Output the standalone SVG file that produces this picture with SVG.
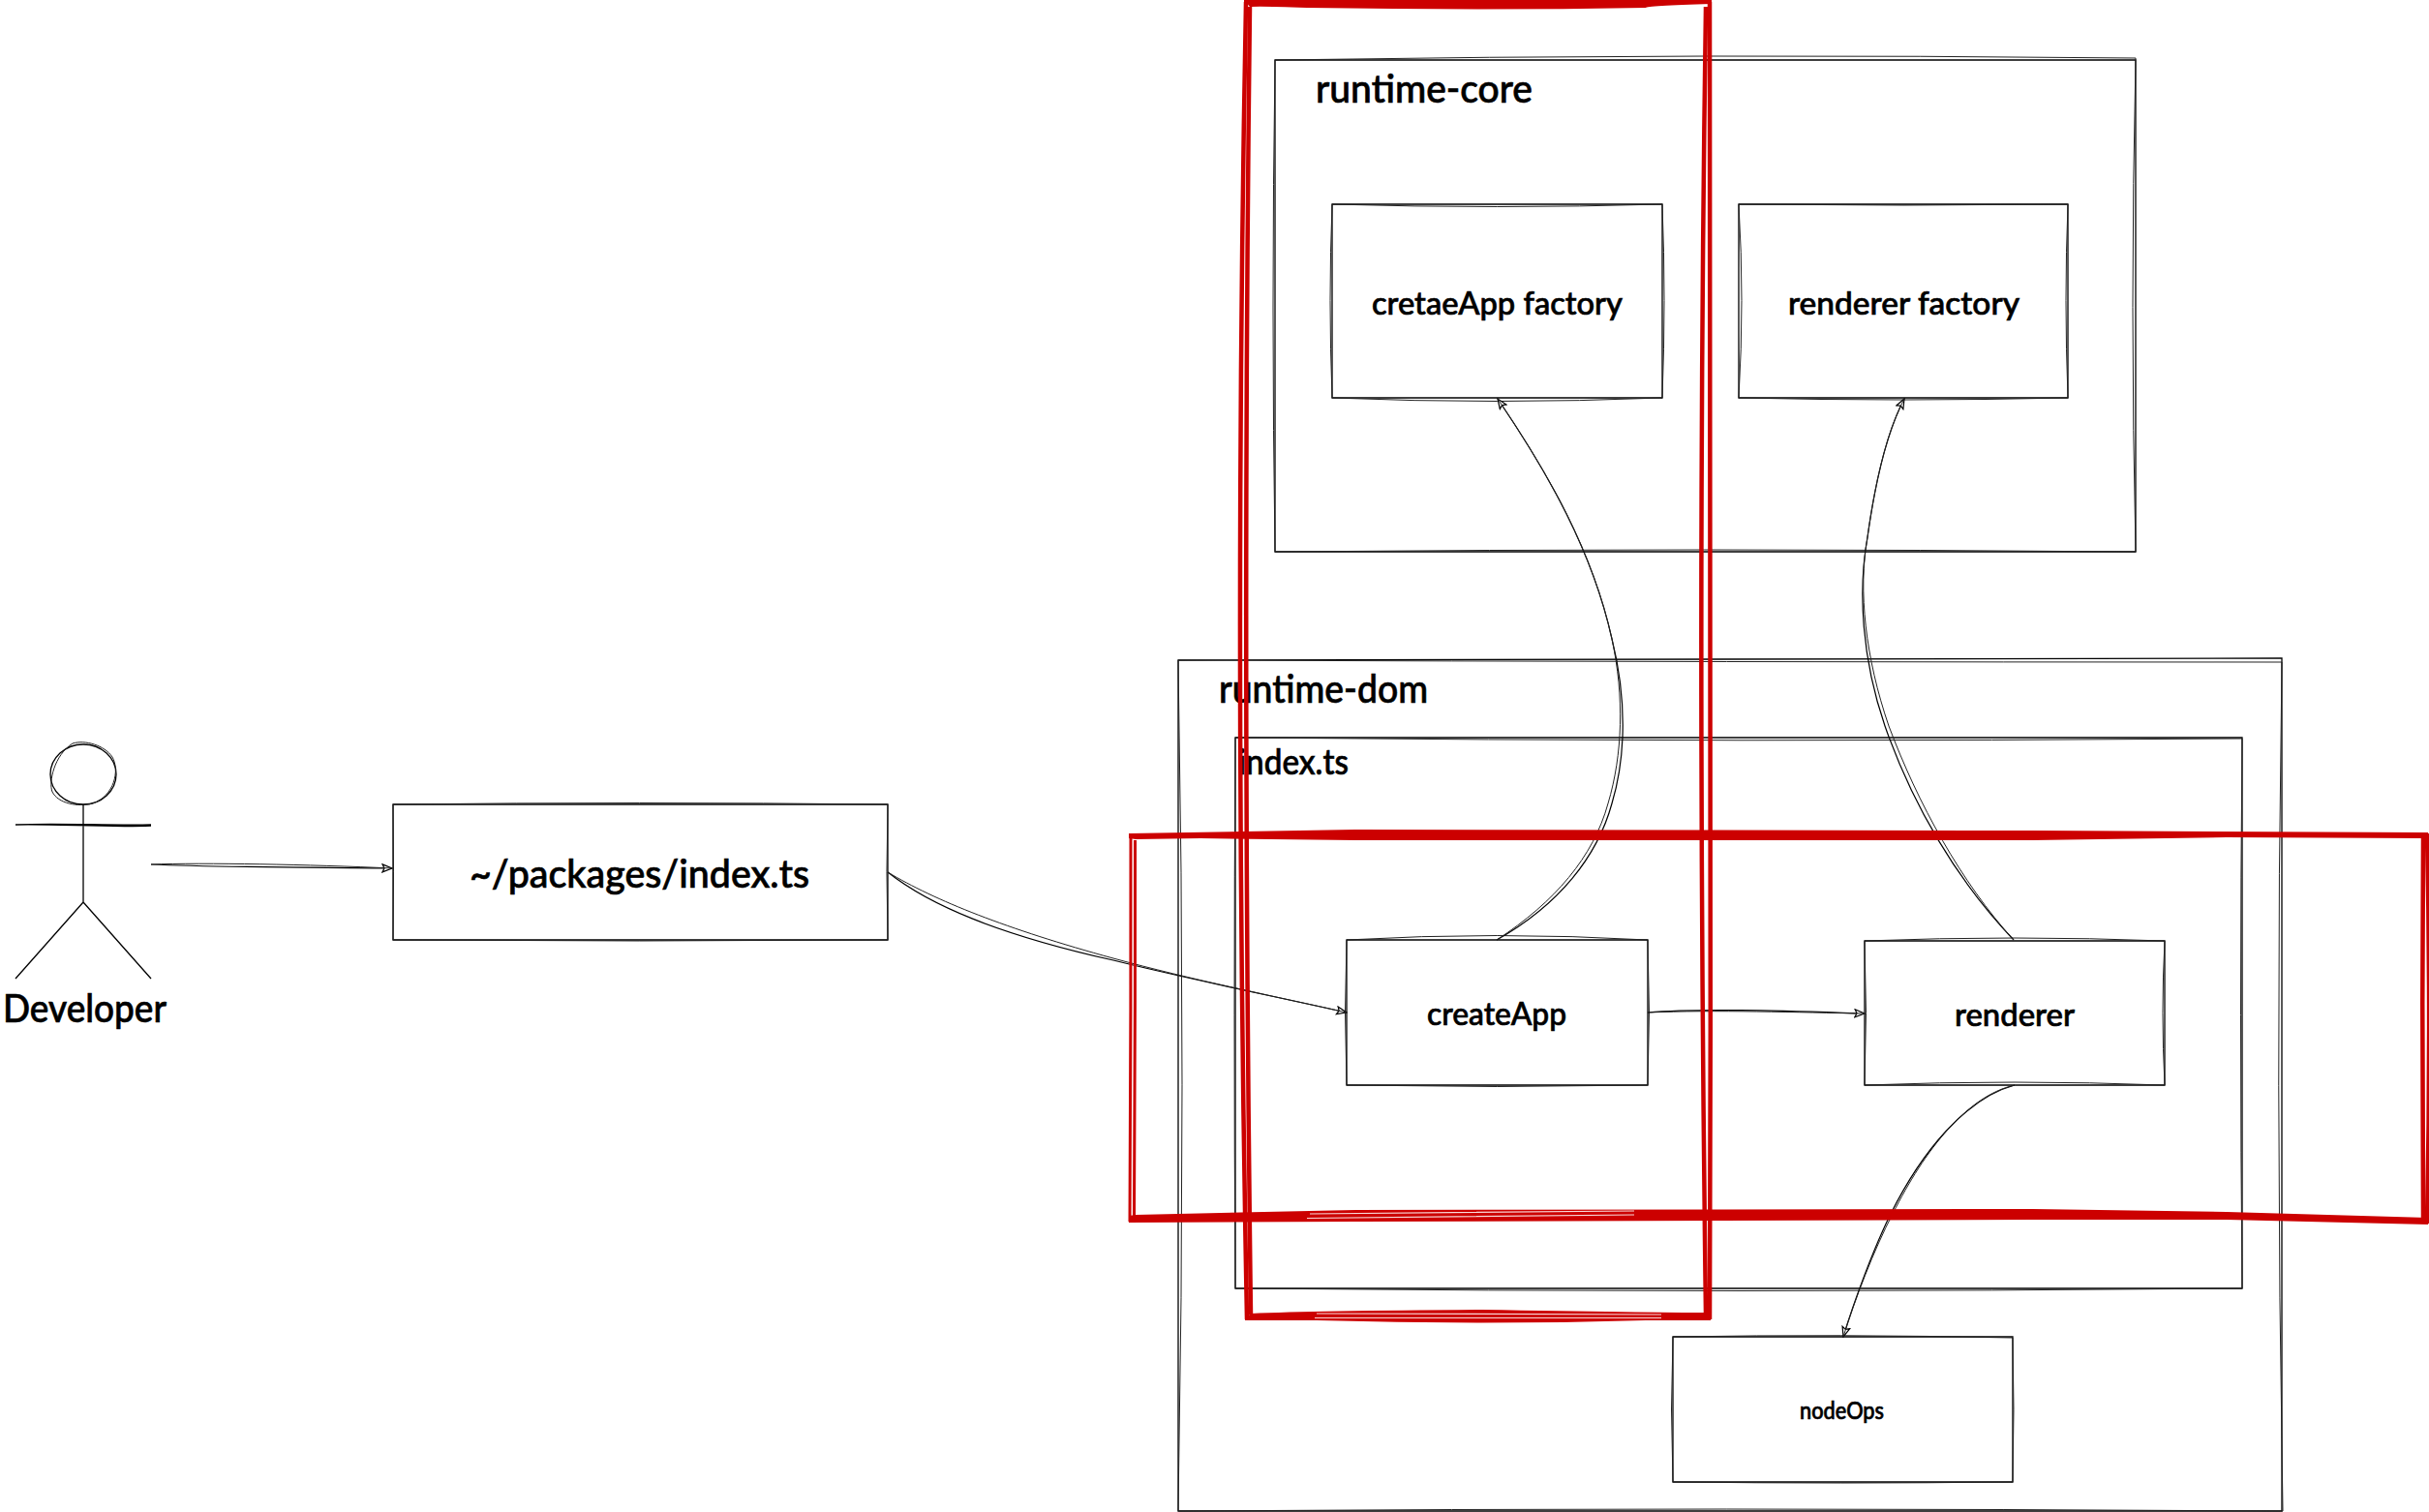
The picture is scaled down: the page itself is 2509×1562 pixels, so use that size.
<svg xmlns="http://www.w3.org/2000/svg" width="2509" height="1562" viewBox="0 0 2509 1562">
<defs>
<style>
.s{fill:none;stroke:#000;stroke-width:1.3;stroke-linejoin:miter}
.t{fill:none;stroke:#222;stroke-width:1}
.c{fill:none;stroke:#000;stroke-width:1.2}
.r{fill:none;stroke:#c00;stroke-width:4.5}
.r2{fill:none;stroke:#c00;stroke-width:3}
.b{fill:#c00;stroke:none}
.g{fill:none;stroke:#fff;stroke-width:1.2;stroke-opacity:.85}
text{font-family:"Lato","Noto Sans",sans-serif;font-weight:500;fill:#000;stroke:#000;stroke-width:.7}
.xl{font-size:40px}.l{font-size:37px}.m{font-size:33px}.n{font-size:24px}
</style>
<marker id="a" viewBox="0 0 12 10" refX="11" refY="5" markerWidth="12" markerHeight="10" markerUnits="userSpaceOnUse" orient="auto">
<path d="M1 1L11 5L1 9L3 5Z" fill="#fff" stroke="#000" stroke-width="1.2"/>
</marker>
</defs>
<rect width="2509" height="1562" fill="#fff"/>

<g id="actor-developer">
<ellipse class="s" cx="86" cy="800" rx="34" ry="31"/>
<path class="t" d="M75 768C56 780 50 808 54 818C60 830 80 834 96 830C118 822 124 796 116 782C108 770 88 764 75 768Z"/>
<path class="s" d="M86 831L86 932M16 852C60 850 110 853 156 852M16 852C60 851 110 855 156 853M86 932L16 1011M86 932L156 1011"/>
<text class="xl" x="3" y="1056" textLength="169" lengthAdjust="spacingAndGlyphs">Developer</text>
</g>

<g id="node-packages-index">
<path class="s" d="M406 831L917 831L917 971L406 971Z"/>
<path class="t" d="M406 831Q660 828 917 831Q915 900 917 971Q660 973 406 971Q407 900 406 831Z"/>
<text class="xl" x="485" y="917" textLength="351" lengthAdjust="spacingAndGlyphs">~/packages/index.ts</text>
</g>

<g id="node-runtime-core">
<path class="s" d="M1317 62L2206 62L2206 570L1317 570Z"/>
<path class="t" d="M1317 62Q1760 55 2206 60Q2200 320 2206 570Q1760 566 1317 570Q1313 320 1317 62Z"/>
<text class="xl" x="1359" y="106" textLength="224" lengthAdjust="spacingAndGlyphs">runtime-core</text>
</g>

<g id="node-createapp-factory">
<path class="s" d="M1376 211L1717 211L1717 411L1376 411Z"/>
<path class="t" d="M1376 211Q1546 216 1717 211Q1721 310 1717 411Q1546 418 1376 411Q1372 310 1376 211Z"/>
<text class="m" x="1417" y="325" textLength="259" lengthAdjust="spacingAndGlyphs">cretaeApp factory</text>
</g>

<g id="node-renderer-factory">
<path class="s" d="M1796 211L2136 211L2136 411L1796 411Z"/>
<path class="t" d="M1796 211Q1966 213 2136 211Q2132 310 2136 411Q1966 415 1796 411Q1802 310 1796 211Z"/>
<text class="m" x="1847" y="325" textLength="239" lengthAdjust="spacingAndGlyphs">renderer factory</text>
</g>

<g id="node-runtime-dom">
<path class="s" d="M1217 682L2357 680L2357 1561L1217 1561Z"/>
<path class="t" d="M1217 682Q1780 684 2357 684Q2350 1120 2358 1561Q1780 1557 1217 1561Q1225 1120 1217 682Z"/>
<text class="xl" x="1259" y="726" textLength="216" lengthAdjust="spacingAndGlyphs">runtime-dom</text>
</g>

<g id="node-index-ts">
<path class="s" d="M1276 762L2316 762L2316 1331L1276 1331Z"/>
<path class="t" d="M1276 762Q1800 767 2316 763Q2313 1050 2316 1331Q1800 1336 1276 1331Q1274 1050 1276 762Z"/>
<text class="l" x="1279" y="800" textLength="114" lengthAdjust="spacingAndGlyphs">index.ts</text>
</g>

<g id="node-createapp">
<path class="s" d="M1391 971L1702 971L1702 1121L1391 1121Z"/>
<path class="t" d="M1391 971Q1546 962 1702 971Q1705 1046 1702 1121Q1546 1124 1391 1121Q1388 1046 1391 971Z"/>
<text class="m" x="1474" y="1059" textLength="144" lengthAdjust="spacingAndGlyphs">createApp</text>
</g>

<g id="node-renderer">
<path class="s" d="M1926 972L2236 972L2236 1121L1926 1121Z"/>
<path class="t" d="M1926 972Q2081 966 2236 972Q2232 1046 2236 1121Q2081 1115 1926 1121Q1929 1046 1926 972Z"/>
<text class="m" x="2019" y="1060" textLength="124" lengthAdjust="spacingAndGlyphs">renderer</text>
</g>

<g id="node-nodeops">
<path class="s" d="M1728 1381L2079 1381L2079 1531L1728 1531Z"/>
<path class="t" d="M1728 1381Q1900 1378 2079 1382Q2081 1456 2079 1531Q1900 1533 1728 1531Q1725 1456 1728 1381Z"/>
<text class="n" x="1859" y="1466" textLength="87" lengthAdjust="spacingAndGlyphs">nodeOps</text>
</g>

<g id="connectors">
<path class="c" d="M156 893C220 896 320 896 405 897" marker-end="url(#a)"/>
<path class="t" d="M156 893C210 891 320 893 405 897"/>
<path class="c" d="M917 901C960 935 1030 965 1150 992C1230 1012 1320 1030 1391 1046" marker-end="url(#a)"/>
<path class="t" d="M917 901C965 930 1040 960 1150 990C1230 1012 1320 1030 1391 1046"/>
<path class="c" d="M1546 971C1610 935 1650 885 1665 830C1680 780 1680 720 1665 660C1645 570 1600 490 1547 412" marker-end="url(#a)"/>
<path class="t" d="M1546 971C1606 932 1646 885 1661 830C1676 780 1678 720 1665 660C1645 570 1600 490 1547 412"/>
<path class="c" d="M2080 971C2020 908 1975 830 1947 750C1923 680 1919 610 1929 555C1936 505 1947 450 1967 412" marker-end="url(#a)"/>
<path class="t" d="M2080 971C2026 912 1981 830 1951 750C1927 680 1919 610 1929 555C1936 505 1947 450 1967 412"/>
<path class="c" d="M1702 1046C1760 1041 1860 1045 1926 1047" marker-end="url(#a)"/>
<path class="t" d="M1702 1046C1770 1043 1860 1046 1926 1047"/>
<path class="c" d="M2081 1121C2030 1135 1985 1190 1953 1254C1935 1290 1915 1345 1904 1381" marker-end="url(#a)"/>
<path class="t" d="M2081 1121C2032 1132 1988 1188 1955 1254C1936 1290 1915 1345 1904 1381"/>
</g>

<g id="highlight-vertical">
<path class="r" d="M1287 2C1279 420 1279 900 1288 1363"/>
<path class="r" d="M1291 7C1286 420 1286 900 1292 1358"/>
<path class="r" d="M1766 2C1766 420 1768 900 1766 1363"/>
<path class="r" d="M1762 7C1756 420 1756 900 1762 1358"/>
<path class="r2" d="M1285 1C1500 -1 1600 -1 1768 1"/>
<path class="b" d="M1285 0L1768 0L1768 4Q1700 6 1700 8Q1530 11 1350 8Q1300 6 1291 7Z"/>
<path class="b" d="M1286 1364L1767 1364L1767 1356Q1700 1356 1530 1353Q1360 1354 1292 1357Q1288 1360 1286 1362Z"/>
<path class="b" d="M1360 1364Q1530 1369 1700 1364Z"/>
<path class="g" d="M1360 1357L1716 1358M1358 1361.5L1716 1361.5"/>
</g>

<g id="highlight-horizontal">
<path class="r2" d="M1168 862C1168 1000 1168 1120 1167 1262"/>
<path class="r2" d="M1172.500 868C1172.500 1000 1172.500 1120 1171.500 1256"/>
<path class="r" d="M2503 866C2502 1000 2502 1120 2503 1258"/>
<path class="r" d="M2507 861C2510 1000 2510 1120 2507 1264"/>
<path class="b" d="M1166 861L1400 857L2100 858L2508 860L2508 866L2300 865L2100 868L1400 868L1240 866L1173 867L1166 866Z"/>
<path class="b" d="M1166 1263L1400 1262L2100 1260L2300 1260L2508 1265L2508 1258L2300 1252L2100 1249L1400 1250L1173 1255L1166 1256Z"/>
<path class="g" d="M1353 1254L1688 1251M1350 1258.500L1688 1255"/>
</g>
</svg>
